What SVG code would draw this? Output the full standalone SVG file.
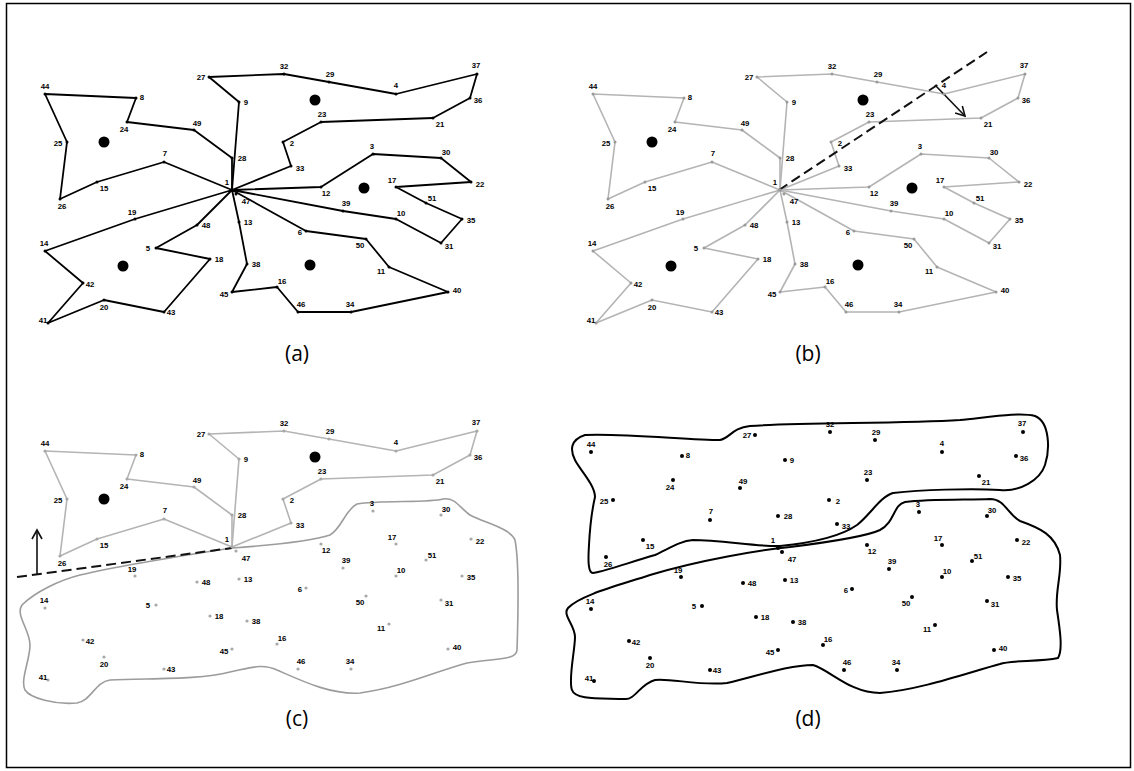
<svg xmlns="http://www.w3.org/2000/svg" width="1134" height="771" viewBox="0 0 1134 771">
<style>
  .lb { font-family: "Liberation Sans", Arial, sans-serif; font-weight: bold; font-size: 7.8px; text-anchor: middle; fill: #000; }
  .cap { font-family: "Open Sans", "Liberation Sans", sans-serif; font-size: 21px; text-anchor: middle; fill: #000; }
  .pa circle, .pd circle { fill: #000; }
  .pb circle { fill: #9a9a9a; }
  .pc circle { fill: #a8a8a8; }
  .route-dark { fill: none; stroke: #000; stroke-width: 1.8; stroke-linejoin: round; }
  .route-grey { fill: none; stroke: #b4b4b4; stroke-width: 1.6; stroke-linejoin: round; }
  .hub { fill: #000; }
  .dash { fill: none; stroke: #111; stroke-width: 2; stroke-dasharray: 10 5; }
  .dir { fill: none; stroke: #111; stroke-width: 1.6; }
  .zone-grey { fill: none; stroke: #9c9c9c; stroke-width: 1.6; }
  .zone-dark { fill: none; stroke: #000; stroke-width: 2; }
</style>
<defs>
  <marker id="vhead" markerWidth="12" markerHeight="12" refX="10" refY="6" orient="auto" markerUnits="userSpaceOnUse">
    <path d="M1,1 L10,6 L1,11" fill="none" stroke="#111" stroke-width="1.6"/>
  </marker>
</defs>

<rect x="6.5" y="3.5" width="1124" height="764" fill="#fff" stroke="#000" stroke-width="1.5"/>

<!-- routes, zone outlines, cut lines -->
<g id="connectors">
  <g id="routes-a" transform="translate(0,0)">
    <polyline class="route-dark" points="232,190 232,158 194,130 127,122 136,98 45,94 67,142 60,199 97,182 164,162 232,190"/>
    <polyline class="route-dark" points="232,190 239,102 209,77 284,74 329,82 396,94 477,74 470,98 433,118 321,122 283,142 291,166 232,190"/>
    <polyline class="route-dark" points="232,190 321,187 373,154 441,158 471,182 396,187 426,203 462,219 441,243 396,219 343,211 232,190"/>
    <polyline class="route-dark" points="232,190 306,231 366,239 389,267 448,292 351,312 298,312 277,287 232,292 247,264 239,222 232,190"/>
    <polyline class="route-dark" points="232,190 135,219 45,251 83,283 48,323 104,300 164,312 210,259 156,248 197,225 232,190"/>
  </g>
  <g id="routes-b" transform="translate(548,0)">
    <polyline class="route-grey" points="232,190 232,158 194,130 127,122 136,98 45,94 67,142 60,199 97,182 164,162 232,190"/>
    <polyline class="route-grey" points="232,190 239,102 209,77 284,74 329,82 396,94 477,74 470,98 433,118 321,122 283,142 291,166 232,190"/>
    <polyline class="route-grey" points="232,190 321,187 373,154 441,158 471,182 396,187 426,203 462,219 441,243 396,219 343,211 232,190"/>
    <polyline class="route-grey" points="232,190 306,231 366,239 389,267 448,292 351,312 298,312 277,287 232,292 247,264 239,222 232,190"/>
    <polyline class="route-grey" points="232,190 135,219 45,251 83,283 48,323 104,300 164,312 210,259 156,248 197,225 232,190"/>
  </g>
  <path class="dash" d="M779,190 L987,52"/>
  <path class="dir" d="M935,85 L965,116" marker-end="url(#vhead)"/>

  <g id="routes-c" transform="translate(0,357)">
    <polyline class="route-grey" points="232,190 232,158 194,130 127,122 136,98 45,94 67,142 60,199 97,182 164,162 232,190"/>
    <polyline class="route-grey" points="232,190 239,102 209,77 284,74 329,82 396,94 477,74 470,98 433,118 321,122 283,142 291,166 232,190"/>
  </g>
  <path class="zone-grey" d="M232,548 C260,546 310,542 330,535 C342,528 345,510 357,504 C380,500 430,503 443,499 C455,497 460,508 470,515 C485,523 510,528 515,540 C519,560 518,620 517,650 C516,660 500,658 467,663 C440,670 400,688 360,693 C330,695 300,680 277,670 C262,663 250,668 230,672 C200,680 150,678 110,680 C95,682 92,700 77,703 C55,705 30,698 25,690 C20,680 30,660 30,645 C30,630 15,615 22,605 C35,592 60,580 80,575 C110,568 180,556 232,548 Z"/>
  <path class="dash" d="M17,577 L232,548"/>
  <path class="dir" d="M37,574 L37,530" marker-end="url(#vhead)"/>

  <path class="zone-dark" d="M585,435 C620,433 690,440 720,440 C730,438 732,428 750,426 C800,422 900,424 960,420 C990,417 1020,412 1035,416 C1050,422 1050,450 1045,465 C1040,480 1020,492 1000,490 C970,488 920,490 893,493 C880,497 870,515 857,525 C840,537 810,543 780,546 C760,547 720,540 693,540 C680,541 670,548 655,555 C630,562 610,570 593,573 C588,573 588,560 589,545 C590,525 592,510 595,497 C595,485 580,470 575,460 C570,450 570,440 585,435 Z"/>
  <path class="zone-dark" d="M790,547 C830,542 865,537 880,530 C895,522 893,505 905,502 C930,499 970,500 990,499 C1005,499 1008,515 1020,521 C1040,528 1055,535 1060,555 C1062,575 1055,590 1057,610 C1060,630 1063,650 1058,658 C1040,662 1010,660 1000,664 C970,672 920,690 880,693 C850,693 830,670 813,665 C790,665 760,675 727,683 C700,686 670,678 655,680 C640,684 635,700 625,699 C600,698 575,700 572,690 C568,680 575,650 575,637 C575,625 562,615 568,608 C580,595 620,585 650,575 C700,560 760,550 790,547 Z"/>
</g>

<!-- cluster centres -->
<g id="centres">
  <circle class="hub" cx="104" cy="142" r="5.5"/>
  <circle class="hub" cx="315" cy="100" r="5.5"/>
  <circle class="hub" cx="364" cy="188" r="5.5"/>
  <circle class="hub" cx="123" cy="266" r="5.5"/>
  <circle class="hub" cx="310" cy="265" r="5.5"/>
  <circle class="hub" cx="652" cy="142" r="5.5"/>
  <circle class="hub" cx="863" cy="100" r="5.5"/>
  <circle class="hub" cx="912" cy="188" r="5.5"/>
  <circle class="hub" cx="671" cy="266" r="5.5"/>
  <circle class="hub" cx="858" cy="265" r="5.5"/>
  <circle class="hub" cx="104" cy="499" r="5.5"/>
  <circle class="hub" cx="315" cy="457" r="5.5"/>
</g>

<!-- customer nodes, panel (a) -->
<g id="panel-a" class="pa">
  <g id="a-n1"><circle cx="232" cy="190" r="1.8"/><text class="lb" x="227" y="185">1</text></g>
  <g id="a-n2"><circle cx="283" cy="142" r="1.5"/><text class="lb" x="292" y="146">2</text></g>
  <g id="a-n3"><circle cx="373" cy="154" r="1.5"/><text class="lb" x="372" y="149">3</text></g>
  <g id="a-n4"><circle cx="396" cy="94" r="1.5"/><text class="lb" x="396" y="88">4</text></g>
  <g id="a-n5"><circle cx="156" cy="248" r="1.5"/><text class="lb" x="148" y="251">5</text></g>
  <g id="a-n6"><circle cx="306" cy="231" r="1.5"/><text class="lb" x="300" y="235">6</text></g>
  <g id="a-n7"><circle cx="164" cy="162" r="1.5"/><text class="lb" x="165" y="156">7</text></g>
  <g id="a-n8"><circle cx="136" cy="98" r="1.5"/><text class="lb" x="142" y="100">8</text></g>
  <g id="a-n9"><circle cx="239" cy="102" r="1.5"/><text class="lb" x="246" y="105">9</text></g>
  <g id="a-n10"><circle cx="396" cy="219" r="1.5"/><text class="lb" x="401" y="216">10</text></g>
  <g id="a-n11"><circle cx="389" cy="267" r="1.5"/><text class="lb" x="381" y="274">11</text></g>
  <g id="a-n12"><circle cx="321" cy="187" r="1.5"/><text class="lb" x="326" y="196">12</text></g>
  <g id="a-n13"><circle cx="239" cy="222" r="1.5"/><text class="lb" x="248" y="225">13</text></g>
  <g id="a-n14"><circle cx="45" cy="251" r="1.5"/><text class="lb" x="44" y="246">14</text></g>
  <g id="a-n15"><circle cx="97" cy="182" r="1.5"/><text class="lb" x="104" y="191">15</text></g>
  <g id="a-n16"><circle cx="277" cy="287" r="1.5"/><text class="lb" x="282" y="284">16</text></g>
  <g id="a-n17"><circle cx="396" cy="187" r="1.5"/><text class="lb" x="392" y="183">17</text></g>
  <g id="a-n18"><circle cx="210" cy="259" r="1.5"/><text class="lb" x="219" y="262">18</text></g>
  <g id="a-n19"><circle cx="135" cy="219" r="1.5"/><text class="lb" x="132" y="215">19</text></g>
  <g id="a-n20"><circle cx="104" cy="300" r="1.5"/><text class="lb" x="104" y="310">20</text></g>
  <g id="a-n21"><circle cx="433" cy="118" r="1.5"/><text class="lb" x="440" y="127">21</text></g>
  <g id="a-n22"><circle cx="471" cy="182" r="1.5"/><text class="lb" x="480" y="187">22</text></g>
  <g id="a-n23"><circle cx="321" cy="122" r="1.5"/><text class="lb" x="322" y="117">23</text></g>
  <g id="a-n24"><circle cx="127" cy="122" r="1.5"/><text class="lb" x="124" y="132">24</text></g>
  <g id="a-n25"><circle cx="67" cy="142" r="1.5"/><text class="lb" x="58" y="146">25</text></g>
  <g id="a-n26"><circle cx="60" cy="199" r="1.5"/><text class="lb" x="62" y="209">26</text></g>
  <g id="a-n27"><circle cx="209" cy="77" r="1.5"/><text class="lb" x="201" y="80">27</text></g>
  <g id="a-n28"><circle cx="232" cy="158" r="1.5"/><text class="lb" x="242" y="161">28</text></g>
  <g id="a-n29"><circle cx="329" cy="82" r="1.5"/><text class="lb" x="330" y="77">29</text></g>
  <g id="a-n30"><circle cx="441" cy="158" r="1.5"/><text class="lb" x="446" y="155">30</text></g>
  <g id="a-n31"><circle cx="441" cy="243" r="1.5"/><text class="lb" x="449" y="249">31</text></g>
  <g id="a-n32"><circle cx="284" cy="74" r="1.5"/><text class="lb" x="284" y="69">32</text></g>
  <g id="a-n33"><circle cx="291" cy="166" r="1.5"/><text class="lb" x="300" y="171">33</text></g>
  <g id="a-n34"><circle cx="351" cy="312" r="1.5"/><text class="lb" x="350" y="307">34</text></g>
  <g id="a-n35"><circle cx="462" cy="219" r="1.5"/><text class="lb" x="471" y="223">35</text></g>
  <g id="a-n36"><circle cx="470" cy="98" r="1.5"/><text class="lb" x="478" y="103">36</text></g>
  <g id="a-n37"><circle cx="477" cy="74" r="1.5"/><text class="lb" x="476" y="68">37</text></g>
  <g id="a-n38"><circle cx="247" cy="264" r="1.5"/><text class="lb" x="256" y="267">38</text></g>
  <g id="a-n39"><circle cx="343" cy="211" r="1.5"/><text class="lb" x="346" y="206">39</text></g>
  <g id="a-n40"><circle cx="448" cy="292" r="1.5"/><text class="lb" x="457" y="293">40</text></g>
  <g id="a-n41"><circle cx="48" cy="323" r="1.5"/><text class="lb" x="43" y="323">41</text></g>
  <g id="a-n42"><circle cx="83" cy="283" r="1.5"/><text class="lb" x="90" y="287">42</text></g>
  <g id="a-n43"><circle cx="164" cy="312" r="1.5"/><text class="lb" x="171" y="315">43</text></g>
  <g id="a-n44"><circle cx="45" cy="94" r="1.5"/><text class="lb" x="45" y="89">44</text></g>
  <g id="a-n45"><circle cx="232" cy="292" r="1.5"/><text class="lb" x="224" y="297">45</text></g>
  <g id="a-n46"><circle cx="298" cy="312" r="1.5"/><text class="lb" x="301" y="307">46</text></g>
  <g id="a-n47"><circle cx="236" cy="194" r="1.5"/><text class="lb" x="246" y="204">47</text></g>
  <g id="a-n48"><circle cx="197" cy="225" r="1.5"/><text class="lb" x="206" y="228">48</text></g>
  <g id="a-n49"><circle cx="194" cy="130" r="1.5"/><text class="lb" x="197" y="126">49</text></g>
  <g id="a-n50"><circle cx="366" cy="239" r="1.5"/><text class="lb" x="360" y="248">50</text></g>
  <g id="a-n51"><circle cx="426" cy="203" r="1.5"/><text class="lb" x="432" y="201">51</text></g>
</g>

<!-- customer nodes, panel (b) -->
<g id="panel-b" class="pb" transform="translate(548,0)">
  <g id="b-n1"><circle cx="232" cy="190" r="1.8"/><text class="lb" x="227" y="185">1</text></g>
  <g id="b-n2"><circle cx="283" cy="142" r="1.5"/><text class="lb" x="292" y="146">2</text></g>
  <g id="b-n3"><circle cx="373" cy="154" r="1.5"/><text class="lb" x="372" y="149">3</text></g>
  <g id="b-n4"><circle cx="396" cy="94" r="1.5"/><text class="lb" x="396" y="88">4</text></g>
  <g id="b-n5"><circle cx="156" cy="248" r="1.5"/><text class="lb" x="148" y="251">5</text></g>
  <g id="b-n6"><circle cx="306" cy="231" r="1.5"/><text class="lb" x="300" y="235">6</text></g>
  <g id="b-n7"><circle cx="164" cy="162" r="1.5"/><text class="lb" x="165" y="156">7</text></g>
  <g id="b-n8"><circle cx="136" cy="98" r="1.5"/><text class="lb" x="142" y="100">8</text></g>
  <g id="b-n9"><circle cx="239" cy="102" r="1.5"/><text class="lb" x="246" y="105">9</text></g>
  <g id="b-n10"><circle cx="396" cy="219" r="1.5"/><text class="lb" x="401" y="216">10</text></g>
  <g id="b-n11"><circle cx="389" cy="267" r="1.5"/><text class="lb" x="381" y="274">11</text></g>
  <g id="b-n12"><circle cx="321" cy="187" r="1.5"/><text class="lb" x="326" y="196">12</text></g>
  <g id="b-n13"><circle cx="239" cy="222" r="1.5"/><text class="lb" x="248" y="225">13</text></g>
  <g id="b-n14"><circle cx="45" cy="251" r="1.5"/><text class="lb" x="44" y="246">14</text></g>
  <g id="b-n15"><circle cx="97" cy="182" r="1.5"/><text class="lb" x="104" y="191">15</text></g>
  <g id="b-n16"><circle cx="277" cy="287" r="1.5"/><text class="lb" x="282" y="284">16</text></g>
  <g id="b-n17"><circle cx="396" cy="187" r="1.5"/><text class="lb" x="392" y="183">17</text></g>
  <g id="b-n18"><circle cx="210" cy="259" r="1.5"/><text class="lb" x="219" y="262">18</text></g>
  <g id="b-n19"><circle cx="135" cy="219" r="1.5"/><text class="lb" x="132" y="215">19</text></g>
  <g id="b-n20"><circle cx="104" cy="300" r="1.5"/><text class="lb" x="104" y="310">20</text></g>
  <g id="b-n21"><circle cx="433" cy="118" r="1.5"/><text class="lb" x="440" y="127">21</text></g>
  <g id="b-n22"><circle cx="471" cy="182" r="1.5"/><text class="lb" x="480" y="187">22</text></g>
  <g id="b-n23"><circle cx="321" cy="122" r="1.5"/><text class="lb" x="322" y="117">23</text></g>
  <g id="b-n24"><circle cx="127" cy="122" r="1.5"/><text class="lb" x="124" y="132">24</text></g>
  <g id="b-n25"><circle cx="67" cy="142" r="1.5"/><text class="lb" x="58" y="146">25</text></g>
  <g id="b-n26"><circle cx="60" cy="199" r="1.5"/><text class="lb" x="62" y="209">26</text></g>
  <g id="b-n27"><circle cx="209" cy="77" r="1.5"/><text class="lb" x="201" y="80">27</text></g>
  <g id="b-n28"><circle cx="232" cy="158" r="1.5"/><text class="lb" x="242" y="161">28</text></g>
  <g id="b-n29"><circle cx="329" cy="82" r="1.5"/><text class="lb" x="330" y="77">29</text></g>
  <g id="b-n30"><circle cx="441" cy="158" r="1.5"/><text class="lb" x="446" y="155">30</text></g>
  <g id="b-n31"><circle cx="441" cy="243" r="1.5"/><text class="lb" x="449" y="249">31</text></g>
  <g id="b-n32"><circle cx="284" cy="74" r="1.5"/><text class="lb" x="284" y="69">32</text></g>
  <g id="b-n33"><circle cx="291" cy="166" r="1.5"/><text class="lb" x="300" y="171">33</text></g>
  <g id="b-n34"><circle cx="351" cy="312" r="1.5"/><text class="lb" x="350" y="307">34</text></g>
  <g id="b-n35"><circle cx="462" cy="219" r="1.5"/><text class="lb" x="471" y="223">35</text></g>
  <g id="b-n36"><circle cx="470" cy="98" r="1.5"/><text class="lb" x="478" y="103">36</text></g>
  <g id="b-n37"><circle cx="477" cy="74" r="1.5"/><text class="lb" x="476" y="68">37</text></g>
  <g id="b-n38"><circle cx="247" cy="264" r="1.5"/><text class="lb" x="256" y="267">38</text></g>
  <g id="b-n39"><circle cx="343" cy="211" r="1.5"/><text class="lb" x="346" y="206">39</text></g>
  <g id="b-n40"><circle cx="448" cy="292" r="1.5"/><text class="lb" x="457" y="293">40</text></g>
  <g id="b-n41"><circle cx="48" cy="323" r="1.5"/><text class="lb" x="43" y="323">41</text></g>
  <g id="b-n42"><circle cx="83" cy="283" r="1.5"/><text class="lb" x="90" y="287">42</text></g>
  <g id="b-n43"><circle cx="164" cy="312" r="1.5"/><text class="lb" x="171" y="315">43</text></g>
  <g id="b-n44"><circle cx="45" cy="94" r="1.5"/><text class="lb" x="45" y="89">44</text></g>
  <g id="b-n45"><circle cx="232" cy="292" r="1.5"/><text class="lb" x="224" y="297">45</text></g>
  <g id="b-n46"><circle cx="298" cy="312" r="1.5"/><text class="lb" x="301" y="307">46</text></g>
  <g id="b-n47"><circle cx="236" cy="194" r="1.5"/><text class="lb" x="246" y="204">47</text></g>
  <g id="b-n48"><circle cx="197" cy="225" r="1.5"/><text class="lb" x="206" y="228">48</text></g>
  <g id="b-n49"><circle cx="194" cy="130" r="1.5"/><text class="lb" x="197" y="126">49</text></g>
  <g id="b-n50"><circle cx="366" cy="239" r="1.5"/><text class="lb" x="360" y="248">50</text></g>
  <g id="b-n51"><circle cx="426" cy="203" r="1.5"/><text class="lb" x="432" y="201">51</text></g>
</g>

<!-- customer nodes, panel (c) -->
<g id="panel-c" class="pc" transform="translate(0,357)">
  <g id="c-n1"><circle cx="232" cy="190" r="1.6"/><text class="lb" x="227" y="185">1</text></g>
  <g id="c-n2"><circle cx="283" cy="142" r="1.6"/><text class="lb" x="292" y="146">2</text></g>
  <g id="c-n3"><circle cx="373" cy="154" r="1.6"/><text class="lb" x="372" y="149">3</text></g>
  <g id="c-n4"><circle cx="396" cy="94" r="1.6"/><text class="lb" x="396" y="88">4</text></g>
  <g id="c-n5"><circle cx="156" cy="248" r="1.6"/><text class="lb" x="148" y="251">5</text></g>
  <g id="c-n6"><circle cx="306" cy="231" r="1.6"/><text class="lb" x="300" y="235">6</text></g>
  <g id="c-n7"><circle cx="164" cy="162" r="1.6"/><text class="lb" x="165" y="156">7</text></g>
  <g id="c-n8"><circle cx="136" cy="98" r="1.6"/><text class="lb" x="142" y="100">8</text></g>
  <g id="c-n9"><circle cx="239" cy="102" r="1.6"/><text class="lb" x="246" y="105">9</text></g>
  <g id="c-n10"><circle cx="396" cy="219" r="1.6"/><text class="lb" x="401" y="216">10</text></g>
  <g id="c-n11"><circle cx="389" cy="267" r="1.6"/><text class="lb" x="381" y="274">11</text></g>
  <g id="c-n12"><circle cx="321" cy="187" r="1.6"/><text class="lb" x="326" y="196">12</text></g>
  <g id="c-n13"><circle cx="239" cy="222" r="1.6"/><text class="lb" x="248" y="225">13</text></g>
  <g id="c-n14"><circle cx="45" cy="251" r="1.6"/><text class="lb" x="44" y="246">14</text></g>
  <g id="c-n15"><circle cx="97" cy="182" r="1.6"/><text class="lb" x="104" y="191">15</text></g>
  <g id="c-n16"><circle cx="277" cy="287" r="1.6"/><text class="lb" x="282" y="284">16</text></g>
  <g id="c-n17"><circle cx="396" cy="187" r="1.6"/><text class="lb" x="392" y="183">17</text></g>
  <g id="c-n18"><circle cx="210" cy="259" r="1.6"/><text class="lb" x="219" y="262">18</text></g>
  <g id="c-n19"><circle cx="135" cy="219" r="1.6"/><text class="lb" x="132" y="215">19</text></g>
  <g id="c-n20"><circle cx="104" cy="300" r="1.6"/><text class="lb" x="104" y="310">20</text></g>
  <g id="c-n21"><circle cx="433" cy="118" r="1.6"/><text class="lb" x="440" y="127">21</text></g>
  <g id="c-n22"><circle cx="471" cy="182" r="1.6"/><text class="lb" x="480" y="187">22</text></g>
  <g id="c-n23"><circle cx="321" cy="122" r="1.6"/><text class="lb" x="322" y="117">23</text></g>
  <g id="c-n24"><circle cx="127" cy="122" r="1.6"/><text class="lb" x="124" y="132">24</text></g>
  <g id="c-n25"><circle cx="67" cy="142" r="1.6"/><text class="lb" x="58" y="146">25</text></g>
  <g id="c-n26"><circle cx="60" cy="199" r="1.6"/><text class="lb" x="62" y="209">26</text></g>
  <g id="c-n27"><circle cx="209" cy="77" r="1.6"/><text class="lb" x="201" y="80">27</text></g>
  <g id="c-n28"><circle cx="232" cy="158" r="1.6"/><text class="lb" x="242" y="161">28</text></g>
  <g id="c-n29"><circle cx="329" cy="82" r="1.6"/><text class="lb" x="330" y="77">29</text></g>
  <g id="c-n30"><circle cx="441" cy="158" r="1.6"/><text class="lb" x="446" y="155">30</text></g>
  <g id="c-n31"><circle cx="441" cy="243" r="1.6"/><text class="lb" x="449" y="249">31</text></g>
  <g id="c-n32"><circle cx="284" cy="74" r="1.6"/><text class="lb" x="284" y="69">32</text></g>
  <g id="c-n33"><circle cx="291" cy="166" r="1.6"/><text class="lb" x="300" y="171">33</text></g>
  <g id="c-n34"><circle cx="351" cy="312" r="1.6"/><text class="lb" x="350" y="307">34</text></g>
  <g id="c-n35"><circle cx="462" cy="219" r="1.6"/><text class="lb" x="471" y="223">35</text></g>
  <g id="c-n36"><circle cx="470" cy="98" r="1.6"/><text class="lb" x="478" y="103">36</text></g>
  <g id="c-n37"><circle cx="477" cy="74" r="1.6"/><text class="lb" x="476" y="68">37</text></g>
  <g id="c-n38"><circle cx="247" cy="264" r="1.6"/><text class="lb" x="256" y="267">38</text></g>
  <g id="c-n39"><circle cx="343" cy="211" r="1.6"/><text class="lb" x="346" y="206">39</text></g>
  <g id="c-n40"><circle cx="448" cy="292" r="1.6"/><text class="lb" x="457" y="293">40</text></g>
  <g id="c-n41"><circle cx="48" cy="323" r="1.6"/><text class="lb" x="43" y="323">41</text></g>
  <g id="c-n42"><circle cx="83" cy="283" r="1.6"/><text class="lb" x="90" y="287">42</text></g>
  <g id="c-n43"><circle cx="164" cy="312" r="1.6"/><text class="lb" x="171" y="315">43</text></g>
  <g id="c-n44"><circle cx="45" cy="94" r="1.6"/><text class="lb" x="45" y="89">44</text></g>
  <g id="c-n45"><circle cx="232" cy="292" r="1.6"/><text class="lb" x="224" y="297">45</text></g>
  <g id="c-n46"><circle cx="298" cy="312" r="1.6"/><text class="lb" x="301" y="307">46</text></g>
  <g id="c-n47"><circle cx="236" cy="194" r="1.6"/><text class="lb" x="246" y="204">47</text></g>
  <g id="c-n48"><circle cx="197" cy="225" r="1.6"/><text class="lb" x="206" y="228">48</text></g>
  <g id="c-n49"><circle cx="194" cy="130" r="1.6"/><text class="lb" x="197" y="126">49</text></g>
  <g id="c-n50"><circle cx="366" cy="239" r="1.6"/><text class="lb" x="360" y="248">50</text></g>
  <g id="c-n51"><circle cx="426" cy="203" r="1.6"/><text class="lb" x="432" y="201">51</text></g>
</g>

<!-- customer nodes, panel (d) -->
<g id="panel-d" class="pd" transform="translate(546,358)">
  <g id="d-n1"><circle cx="232" cy="190" r="2"/><text class="lb" x="227" y="185">1</text></g>
  <g id="d-n2"><circle cx="283" cy="142" r="2"/><text class="lb" x="292" y="146">2</text></g>
  <g id="d-n3"><circle cx="373" cy="154" r="2"/><text class="lb" x="372" y="149">3</text></g>
  <g id="d-n4"><circle cx="396" cy="94" r="2"/><text class="lb" x="396" y="88">4</text></g>
  <g id="d-n5"><circle cx="156" cy="248" r="2"/><text class="lb" x="148" y="251">5</text></g>
  <g id="d-n6"><circle cx="306" cy="231" r="2"/><text class="lb" x="300" y="235">6</text></g>
  <g id="d-n7"><circle cx="164" cy="162" r="2"/><text class="lb" x="165" y="156">7</text></g>
  <g id="d-n8"><circle cx="136" cy="98" r="2"/><text class="lb" x="142" y="100">8</text></g>
  <g id="d-n9"><circle cx="239" cy="102" r="2"/><text class="lb" x="246" y="105">9</text></g>
  <g id="d-n10"><circle cx="396" cy="219" r="2"/><text class="lb" x="401" y="216">10</text></g>
  <g id="d-n11"><circle cx="389" cy="267" r="2"/><text class="lb" x="381" y="274">11</text></g>
  <g id="d-n12"><circle cx="321" cy="187" r="2"/><text class="lb" x="326" y="196">12</text></g>
  <g id="d-n13"><circle cx="239" cy="222" r="2"/><text class="lb" x="248" y="225">13</text></g>
  <g id="d-n14"><circle cx="45" cy="251" r="2"/><text class="lb" x="44" y="246">14</text></g>
  <g id="d-n15"><circle cx="97" cy="182" r="2"/><text class="lb" x="104" y="191">15</text></g>
  <g id="d-n16"><circle cx="277" cy="287" r="2"/><text class="lb" x="282" y="284">16</text></g>
  <g id="d-n17"><circle cx="396" cy="187" r="2"/><text class="lb" x="392" y="183">17</text></g>
  <g id="d-n18"><circle cx="210" cy="259" r="2"/><text class="lb" x="219" y="262">18</text></g>
  <g id="d-n19"><circle cx="135" cy="219" r="2"/><text class="lb" x="132" y="215">19</text></g>
  <g id="d-n20"><circle cx="104" cy="300" r="2"/><text class="lb" x="104" y="310">20</text></g>
  <g id="d-n21"><circle cx="433" cy="118" r="2"/><text class="lb" x="440" y="127">21</text></g>
  <g id="d-n22"><circle cx="471" cy="182" r="2"/><text class="lb" x="480" y="187">22</text></g>
  <g id="d-n23"><circle cx="321" cy="122" r="2"/><text class="lb" x="322" y="117">23</text></g>
  <g id="d-n24"><circle cx="127" cy="122" r="2"/><text class="lb" x="124" y="132">24</text></g>
  <g id="d-n25"><circle cx="67" cy="142" r="2"/><text class="lb" x="58" y="146">25</text></g>
  <g id="d-n26"><circle cx="60" cy="199" r="2"/><text class="lb" x="62" y="209">26</text></g>
  <g id="d-n27"><circle cx="209" cy="77" r="2"/><text class="lb" x="201" y="80">27</text></g>
  <g id="d-n28"><circle cx="232" cy="158" r="2"/><text class="lb" x="242" y="161">28</text></g>
  <g id="d-n29"><circle cx="329" cy="82" r="2"/><text class="lb" x="330" y="77">29</text></g>
  <g id="d-n30"><circle cx="441" cy="158" r="2"/><text class="lb" x="446" y="155">30</text></g>
  <g id="d-n31"><circle cx="441" cy="243" r="2"/><text class="lb" x="449" y="249">31</text></g>
  <g id="d-n32"><circle cx="284" cy="74" r="2"/><text class="lb" x="284" y="69">32</text></g>
  <g id="d-n33"><circle cx="291" cy="166" r="2"/><text class="lb" x="300" y="171">33</text></g>
  <g id="d-n34"><circle cx="351" cy="312" r="2"/><text class="lb" x="350" y="307">34</text></g>
  <g id="d-n35"><circle cx="462" cy="219" r="2"/><text class="lb" x="471" y="223">35</text></g>
  <g id="d-n36"><circle cx="470" cy="98" r="2"/><text class="lb" x="478" y="103">36</text></g>
  <g id="d-n37"><circle cx="477" cy="74" r="2"/><text class="lb" x="476" y="68">37</text></g>
  <g id="d-n38"><circle cx="247" cy="264" r="2"/><text class="lb" x="256" y="267">38</text></g>
  <g id="d-n39"><circle cx="343" cy="211" r="2"/><text class="lb" x="346" y="206">39</text></g>
  <g id="d-n40"><circle cx="448" cy="292" r="2"/><text class="lb" x="457" y="293">40</text></g>
  <g id="d-n41"><circle cx="48" cy="323" r="2"/><text class="lb" x="43" y="323">41</text></g>
  <g id="d-n42"><circle cx="83" cy="283" r="2"/><text class="lb" x="90" y="287">42</text></g>
  <g id="d-n43"><circle cx="164" cy="312" r="2"/><text class="lb" x="171" y="315">43</text></g>
  <g id="d-n44"><circle cx="45" cy="94" r="2"/><text class="lb" x="45" y="89">44</text></g>
  <g id="d-n45"><circle cx="232" cy="292" r="2"/><text class="lb" x="224" y="297">45</text></g>
  <g id="d-n46"><circle cx="298" cy="312" r="2"/><text class="lb" x="301" y="307">46</text></g>
  <g id="d-n47"><circle cx="236" cy="194" r="2"/><text class="lb" x="246" y="204">47</text></g>
  <g id="d-n48"><circle cx="197" cy="225" r="2"/><text class="lb" x="206" y="228">48</text></g>
  <g id="d-n49"><circle cx="194" cy="130" r="2"/><text class="lb" x="197" y="126">49</text></g>
  <g id="d-n50"><circle cx="366" cy="239" r="2"/><text class="lb" x="360" y="248">50</text></g>
  <g id="d-n51"><circle cx="426" cy="203" r="2"/><text class="lb" x="432" y="201">51</text></g>
</g>

<!-- panel captions -->
<g id="captions">
  <text class="cap" x="297" y="361">(a)</text>
  <text class="cap" x="808" y="361">(b)</text>
  <text class="cap" x="297" y="726">(c)</text>
  <text class="cap" x="808" y="726">(d)</text>
</g>
</svg>
